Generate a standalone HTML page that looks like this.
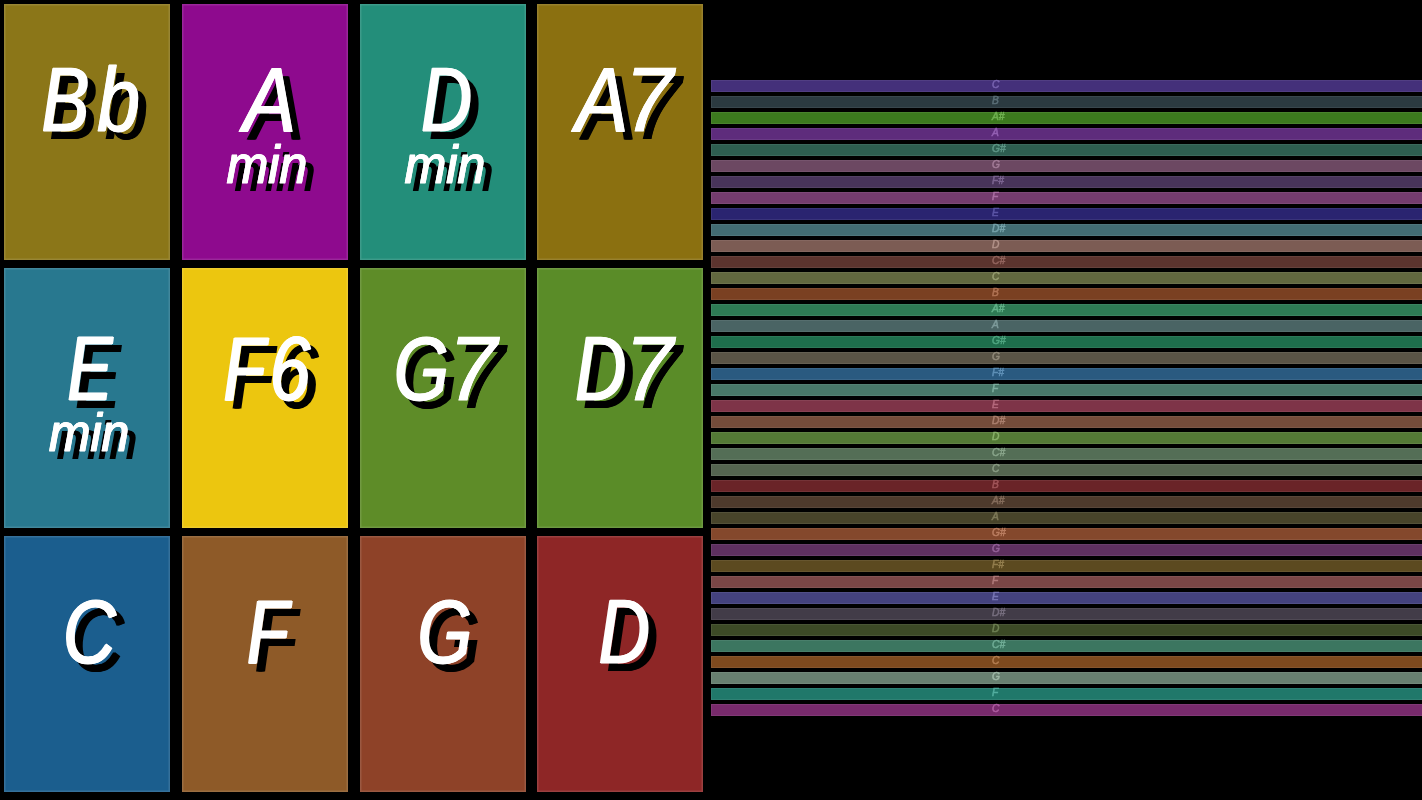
<!DOCTYPE html>
<html><head><meta charset="utf-8"><title>Chords</title>
<style>
html,body{margin:0;padding:0;background:#000;}
body{width:1422px;height:800px;position:relative;overflow:hidden;font-family:"Liberation Sans",sans-serif;font-style:italic;}
.t{position:absolute;box-shadow:inset 0 0 0 1.5px rgba(255,255,255,.12);}
.l{position:absolute;left:0;top:0;white-space:nowrap;color:#fff;line-height:1;transform-origin:0 0;}
.big{font-size:90.5px;-webkit-text-stroke:1.0px #fff;}
.sm{font-size:57px;-webkit-text-stroke:1.2px #fff;}
.b{position:absolute;left:711px;width:720px;height:12px;box-shadow:inset 0 0 0 1px rgba(255,255,255,.07);}
.b span{position:absolute;left:281px;top:-1px;font-size:11px;line-height:12px;-webkit-text-stroke:.55px currentColor;white-space:nowrap;transform-origin:0 0;transform:translateY(-.2px) scale(.93);}
</style></head><body>
<div class="t" style="left:3.7px;top:3.6px;width:166px;height:256.65px;background:#8B7618"></div>
<div class="t" style="left:181.6px;top:3.6px;width:166px;height:256.65px;background:#8E0A8E"></div>
<div class="t" style="left:359.5px;top:3.6px;width:166px;height:256.65px;background:#238E7A"></div>
<div class="t" style="left:537.4px;top:3.6px;width:166px;height:256.65px;background:#8B7010"></div>
<div class="t" style="left:3.7px;top:267.6px;width:166px;height:260.3px;background:#28788F"></div>
<div class="t" style="left:181.6px;top:267.6px;width:166px;height:260.3px;background:#ECC60F"></div>
<div class="t" style="left:359.5px;top:267.6px;width:166px;height:260.3px;background:#5E8C28"></div>
<div class="t" style="left:537.4px;top:267.6px;width:166px;height:260.3px;background:#5A8C28"></div>
<div class="t" style="left:3.7px;top:535.9px;width:166px;height:256.0px;background:#1B5E8E"></div>
<div class="t" style="left:181.6px;top:535.9px;width:166px;height:256.0px;background:#8E5A28"></div>
<div class="t" style="left:359.5px;top:535.9px;width:166px;height:256.0px;background:#8E4228"></div>
<div class="t" style="left:537.4px;top:535.9px;width:166px;height:256.0px;background:#8E2626"></div>
<div id="big00"><span class="l big" style="transform:translate(41.83px,55.45px) scale(0.7823,1.0000);text-shadow:1.39px 0 0 #fff,-1.39px 0 0 #fff,11.62px 8.00px 0 #000,8.83px 8.00px 0 #000,10.23px 8.00px 0 #000">B</span><span class="l big" style="transform:translate(97.26px,55.45px) scale(0.8480,1.0000);text-shadow:0.93px 0 0 #fff,-0.93px 0 0 #fff,10.37px 8.00px 0 #000,8.50px 8.00px 0 #000,9.43px 8.00px 0 #000">b</span></div>
<div id="big01"><span class="l big" style="transform:translate(243.26px,55.45px) scale(0.8763,1.0000);text-shadow:0.76px 0 0 #fff,-0.76px 0 0 #fff,9.89px 8.00px 0 #000,8.37px 8.00px 0 #000,9.13px 8.00px 0 #000">A</span></div>
<div id="sm01"><span class="l sm" style="transform:translate(226.61px,137.98px) scale(0.8776,0.9375);text-shadow:0.83px 0 0 #fff,-0.83px 0 0 #fff,9.95px 8.53px 0 #000,8.28px 8.53px 0 #000,9.12px 8.53px 0 #000">min</span></div>
<div id="big02"><span class="l big" style="transform:translate(421.31px,55.45px) scale(0.7706,1.0000);text-shadow:1.48px 0 0 #fff,-1.48px 0 0 #fff,11.87px 8.00px 0 #000,8.90px 8.00px 0 #000,10.38px 8.00px 0 #000">D</span></div>
<div id="sm02"><span class="l sm" style="transform:translate(404.61px,137.98px) scale(0.8776,0.9375);text-shadow:0.83px 0 0 #fff,-0.83px 0 0 #fff,9.95px 8.53px 0 #000,8.28px 8.53px 0 #000,9.12px 8.53px 0 #000">min</span></div>
<div id="big03"><span class="l big" style="transform:translate(575.51px,55.45px) scale(0.8763,1.0000);text-shadow:0.76px 0 0 #fff,-0.76px 0 0 #fff,9.89px 8.00px 0 #000,8.37px 8.00px 0 #000,9.13px 8.00px 0 #000">A</span><span class="l big" style="transform:translate(624.64px,55.45px) scale(0.9596,1.0000);text-shadow:0.30px 0 0 #fff,-0.30px 0 0 #fff,8.63px 8.00px 0 #000,8.04px 8.00px 0 #000,8.34px 8.00px 0 #000">7</span></div>
<div id="big10"><span class="l big" style="transform:translate(67.76px,323.75px) scale(0.7341,1.0000);text-shadow:1.78px 0 0 #fff,-1.78px 0 0 #fff,12.68px 8.00px 0 #000,9.11px 8.00px 0 #000,10.90px 8.00px 0 #000">E</span></div>
<div id="sm10"><span class="l sm" style="transform:translate(49.03px,406.56px) scale(0.8727,0.9328);text-shadow:0.85px 0 0 #fff,-0.85px 0 0 #fff,10.02px 8.58px 0 #000,8.31px 8.58px 0 #000,9.17px 8.58px 0 #000">min</span></div>
<div id="big11"><span class="l big" style="transform:translate(223.82px,323.75px) scale(0.7472,1.0000);text-shadow:1.67px 0 0 #fff,-1.67px 0 0 #fff,12.38px 8.00px 0 #000,9.03px 8.00px 0 #000,10.71px 8.00px 0 #000">F</span><span class="l big" style="transform:translate(269.78px,323.75px) scale(0.8035,1.0000);text-shadow:1.24px 0 0 #fff,-1.24px 0 0 #fff,11.19px 8.00px 0 #000,8.72px 8.00px 0 #000,9.96px 8.00px 0 #000">6</span></div>
<div id="big12"><span class="l big" style="transform:translate(394.00px,323.75px) scale(0.7783,1.0000);text-shadow:1.42px 0 0 #fff,-1.42px 0 0 #fff,11.70px 8.00px 0 #000,8.85px 8.00px 0 #000,10.28px 8.00px 0 #000">G</span><span class="l big" style="transform:translate(448.47px,323.75px) scale(0.9610,1.0000);text-shadow:0.29px 0 0 #fff,-0.29px 0 0 #fff,8.61px 8.00px 0 #000,8.04px 8.00px 0 #000,8.32px 8.00px 0 #000">7</span></div>
<div id="big13"><span class="l big" style="transform:translate(575.28px,323.75px) scale(0.7754,1.0000);text-shadow:1.45px 0 0 #fff,-1.45px 0 0 #fff,11.76px 8.00px 0 #000,8.87px 8.00px 0 #000,10.32px 8.00px 0 #000">D</span><span class="l big" style="transform:translate(624.64px,323.75px) scale(0.9596,1.0000);text-shadow:0.30px 0 0 #fff,-0.30px 0 0 #fff,8.63px 8.00px 0 #000,8.04px 8.00px 0 #000,8.34px 8.00px 0 #000">7</span></div>
<div id="big20"><span class="l big" style="transform:translate(62.96px,587.45px) scale(0.8053,1.0000);text-shadow:1.22px 0 0 #fff,-1.22px 0 0 #fff,11.16px 8.00px 0 #000,8.71px 8.00px 0 #000,9.93px 8.00px 0 #000">C</span></div>
<div id="big21"><span class="l big" style="transform:translate(247.38px,587.45px) scale(0.7390,1.0000);text-shadow:1.74px 0 0 #fff,-1.74px 0 0 #fff,12.57px 8.00px 0 #000,9.08px 8.00px 0 #000,10.83px 8.00px 0 #000">F</span></div>
<div id="big22"><span class="l big" style="transform:translate(417.84px,587.45px) scale(0.7672,1.0000);text-shadow:1.51px 0 0 #fff,-1.51px 0 0 #fff,11.94px 8.00px 0 #000,8.92px 8.00px 0 #000,10.43px 8.00px 0 #000">G</span></div>
<div id="big23"><span class="l big" style="transform:translate(598.97px,587.45px) scale(0.7764,1.0000);text-shadow:1.44px 0 0 #fff,-1.44px 0 0 #fff,11.74px 8.00px 0 #000,8.86px 8.00px 0 #000,10.30px 8.00px 0 #000">D</span></div>
<div class="b" style="top:80px;background:#44307A;color:#7863B0"><span>C</span></div>
<div class="b" style="top:96px;background:#2B3A40;color:#5A6E76"><span>B</span></div>
<div class="b" style="top:112px;background:#3C7A1E;color:#6FB050"><span>A#</span></div>
<div class="b" style="top:128px;background:#5E2C7C;color:#935FB2"><span>A</span></div>
<div class="b" style="top:144px;background:#2D5E50;color:#5C9484"><span>G#</span></div>
<div class="b" style="top:160px;background:#6C4862;color:#A27B97"><span>G</span></div>
<div class="b" style="top:176px;background:#48345A;color:#7B6490"><span>F#</span></div>
<div class="b" style="top:192px;background:#743C6E;color:#AA6FA3"><span>F</span></div>
<div class="b" style="top:208px;background:#2A2470;color:#5B55A6"><span>E</span></div>
<div class="b" style="top:224px;background:#426C72;color:#75A1A8"><span>D#</span></div>
<div class="b" style="top:240px;background:#7C5C54;color:#B29188"><span>D</span></div>
<div class="b" style="top:256px;background:#5C342E;color:#92645D"><span>C#</span></div>
<div class="b" style="top:272px;background:#62683F;color:#979E71"><span>C</span></div>
<div class="b" style="top:288px;background:#7A4022;color:#B07354"><span>B</span></div>
<div class="b" style="top:304px;background:#2E7A54;color:#61B088"><span>A#</span></div>
<div class="b" style="top:320px;background:#4A6464;color:#7D9A9A"><span>A</span></div>
<div class="b" style="top:336px;background:#1E6E4C;color:#4EA47F"><span>G#</span></div>
<div class="b" style="top:352px;background:#5A5446;color:#908979"><span>G</span></div>
<div class="b" style="top:368px;background:#2A5A80;color:#5E8FB6"><span>F#</span></div>
<div class="b" style="top:384px;background:#487868;color:#7CAE9D"><span>F</span></div>
<div class="b" style="top:400px;background:#7E3448;color:#B4687C"><span>E</span></div>
<div class="b" style="top:416px;background:#744C3A;color:#AA7F6D"><span>D#</span></div>
<div class="b" style="top:432px;background:#547A36;color:#88B069"><span>D</span></div>
<div class="b" style="top:448px;background:#546E56;color:#88A48A"><span>C#</span></div>
<div class="b" style="top:464px;background:#546450;color:#889A83"><span>C</span></div>
<div class="b" style="top:480px;background:#6A2428;color:#A05458"><span>B</span></div>
<div class="b" style="top:496px;background:#4E3A2C;color:#846B5A"><span>A#</span></div>
<div class="b" style="top:512px;background:#48442A;color:#7E7958"><span>A</span></div>
<div class="b" style="top:528px;background:#84482C;color:#BA7D60"><span>G#</span></div>
<div class="b" style="top:544px;background:#5E3060;color:#936096"><span>G</span></div>
<div class="b" style="top:560px;background:#5C4A20;color:#927D4D"><span>F#</span></div>
<div class="b" style="top:576px;background:#7A4646;color:#B07A7A"><span>F</span></div>
<div class="b" style="top:592px;background:#44427E;color:#7876B4"><span>E</span></div>
<div class="b" style="top:608px;background:#423C48;color:#766E7E"><span>D#</span></div>
<div class="b" style="top:624px;background:#3C4A26;color:#6E8053"><span>D</span></div>
<div class="b" style="top:640px;background:#3C7660;color:#6FAC95"><span>C#</span></div>
<div class="b" style="top:656px;background:#7E4A1E;color:#B47E51"><span>C</span></div>
<div class="b" style="top:672px;background:#688070;color:#9DB6A5"><span>G</span></div>
<div class="b" style="top:688px;background:#20786A;color:#52AE9F"><span>F</span></div>
<div class="b" style="top:704px;background:#782A6C;color:#AE5CA1"><span>C</span></div>
</body></html>
